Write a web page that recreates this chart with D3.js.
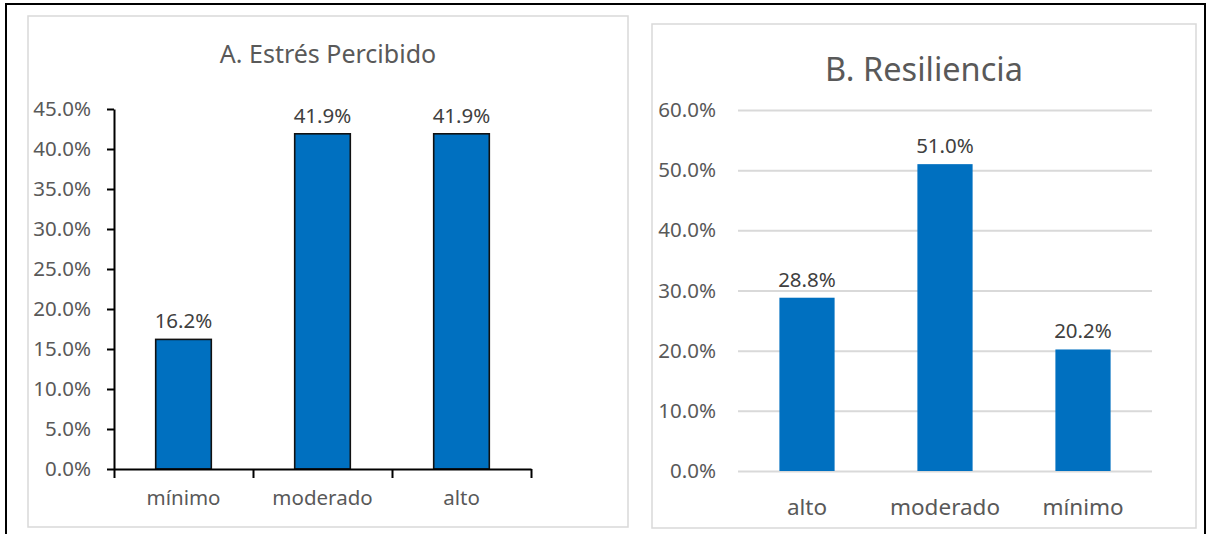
<!DOCTYPE html>
<html>
<head>
<meta charset="utf-8">
<script src="https://cdn.jsdelivr.net/npm/d3@7"></script>
<style>
  body { margin: 0; background: #fff; }
  text { font-family: "Noto Sans", sans-serif; }
</style>
</head>
<body>
<script>
// A. Estrés Percibido
const estresCategorias = ["mínimo", "moderado", "alto"];
const estresValores = [16.2, 41.9, 41.9];
const estresTicks = [0, 5, 10, 15, 20, 25, 30, 35, 40, 45];

// B. Resiliencia
const resilienciaCategorias = ["alto", "moderado", "mínimo"];
const resilienciaValores = [28.8, 51.0, 20.2];
const resilienciaTicks = [0, 10, 20, 30, 40, 50, 60];

const w = 1207,
  h = 534;
const azul = "#0070C0";
const gris = "#595959";

const svg = d3
  .select("body")
  .append("svg")
  .attr("width", w)
  .attr("height", h);

svg.append("rect").attr("width", w).attr("height", h).attr("fill", "#fff");

// outer frame (bottom edge runs off the picture)
svg
  .append("rect")
  .attr("x", 6)
  .attr("y", 4)
  .attr("width", 1199)
  .attr("height", 600)
  .attr("fill", "none")
  .attr("stroke", "#000")
  .attr("stroke-width", 2);

const pct = function (d) {
  return d.toFixed(1) + "%";
};

// ---------- panel A ----------
svg
  .append("rect")
  .attr("x", 28)
  .attr("y", 16)
  .attr("width", 600)
  .attr("height", 511)
  .attr("fill", "#fff")
  .attr("stroke", "#d9d9d9")
  .attr("stroke-width", 1.5);

svg
  .append("text")
  .attr("x", 328)
  .attr("y", 63)
  .attr("text-anchor", "middle")
  .attr("font-size", 25)
  .attr("fill", gris)
  .text("A. Estrés Percibido");

var xA = d3
  .scaleBand()
  .domain(estresCategorias)
  .range([114, 531])
  .paddingInner(0.6)
  .paddingOuter(0.3);

var yA = d3.scaleLinear().domain([0, 45]).range([469, 109]);

var gA = svg.append("g");

gA.selectAll("rect.bar")
  .data(estresValores)
  .enter()
  .append("rect")
  .attr("class", "bar")
  .attr("x", function (d, i) {
    return xA(estresCategorias[i]);
  })
  .attr("y", function (d) {
    return yA(d);
  })
  .attr("width", xA.bandwidth())
  .attr("height", function (d) {
    return yA(0) - yA(d);
  })
  .attr("fill", azul)
  .attr("stroke", "#111")
  .attr("stroke-width", 1.6);

gA.selectAll("text.val")
  .data(estresValores)
  .enter()
  .append("text")
  .attr("class", "val")
  .attr("x", function (d, i) {
    return xA(estresCategorias[i]) + xA.bandwidth() / 2;
  })
  .attr("y", function (d) {
    return yA(d) - 11;
  })
  .attr("text-anchor", "middle")
  .attr("font-size", 20.5)
  .attr("fill", "#404040")
  .text(pct);

// y axis
var axisA = gA
  .append("g")
  .attr("transform", "translate(114,0)")
  .call(
    d3
      .axisLeft(yA)
      .tickValues(estresTicks)
      .tickSize(7)
      .tickSizeOuter(0)
      .tickPadding(16)
      .tickFormat(pct)
  );
axisA.selectAll("line, path").attr("stroke", "#000").attr("stroke-width", 2);
axisA
  .selectAll("text")
  .attr("font-size", 20.5)
  .attr("fill", gris)
  .attr("font-family", "Noto Sans");

// x axis, ticks between categories
var xLimites = d3.scaleLinear().domain([0, 3]).range([114, 531]);
var ejeX = gA
  .append("g")
  .attr("transform", "translate(0,469)")
  .call(
    d3
      .axisBottom(xLimites)
      .tickValues([0, 1, 2, 3])
      .tickSize(9)
      .tickSizeOuter(0)
      .tickFormat("")
  );
ejeX.selectAll("line, path").attr("stroke", "#000").attr("stroke-width", 2);

gA.selectAll("text.cat")
  .data(estresCategorias)
  .enter()
  .append("text")
  .attr("class", "cat")
  .attr("x", function (d) {
    return xA(d) + xA.bandwidth() / 2;
  })
  .attr("y", 505)
  .attr("text-anchor", "middle")
  .attr("font-size", 20.5)
  .attr("fill", gris)
  .text(function (d) {
    return d;
  });

// ---------- panel B ----------
svg
  .append("rect")
  .attr("x", 652)
  .attr("y", 24)
  .attr("width", 544)
  .attr("height", 504)
  .attr("fill", "#fff")
  .attr("stroke", "#d9d9d9")
  .attr("stroke-width", 1.5);

svg
  .append("text")
  .attr("x", 924)
  .attr("y", 81)
  .attr("text-anchor", "middle")
  .attr("font-size", 32.5)
  .attr("fill", gris)
  .text("B. Resiliencia");

var xB = d3
  .scaleBand()
  .domain(resilienciaCategorias)
  .range([738, 1152])
  .paddingInner(0.6)
  .paddingOuter(0.3);

var yB = d3.scaleLinear().domain([0, 60]).range([471, 110]);

var gB = svg.append("g");

// gridlines + labels
var axisB = gB
  .append("g")
  .attr("transform", "translate(738,0)")
  .call(
    d3
      .axisLeft(yB)
      .tickValues(resilienciaTicks)
      .tickSize(-(1152 - 738))
      .tickPadding(22)
      .tickFormat(pct)
  );
axisB.select(".domain").remove();
axisB.selectAll("line").attr("stroke", "#d9d9d9").attr("stroke-width", 2);
axisB
  .selectAll("text")
  .attr("font-size", 20.5)
  .attr("fill", gris)
  .attr("font-family", "Noto Sans");

gB.selectAll("rect.bar")
  .data(resilienciaValores)
  .enter()
  .append("rect")
  .attr("class", "bar")
  .attr("x", function (d, i) {
    return xB(resilienciaCategorias[i]);
  })
  .attr("y", function (d) {
    return yB(d);
  })
  .attr("width", xB.bandwidth())
  .attr("height", function (d) {
    return yB(0) - yB(d);
  })
  .attr("fill", azul);

gB.selectAll("text.val")
  .data(resilienciaValores)
  .enter()
  .append("text")
  .attr("class", "val")
  .attr("x", function (d, i) {
    return xB(resilienciaCategorias[i]) + xB.bandwidth() / 2;
  })
  .attr("y", function (d) {
    return yB(d) - 11;
  })
  .attr("text-anchor", "middle")
  .attr("font-size", 20.5)
  .attr("fill", "#404040")
  .text(pct);

gB.selectAll("text.cat")
  .data(resilienciaCategorias)
  .enter()
  .append("text")
  .attr("class", "cat")
  .attr("x", function (d) {
    return xB(d) + xB.bandwidth() / 2;
  })
  .attr("y", 515)
  .attr("text-anchor", "middle")
  .attr("font-size", 22.5)
  .attr("fill", gris)
  .text(function (d) {
    return d;
  });
</script>
</body>
</html>
